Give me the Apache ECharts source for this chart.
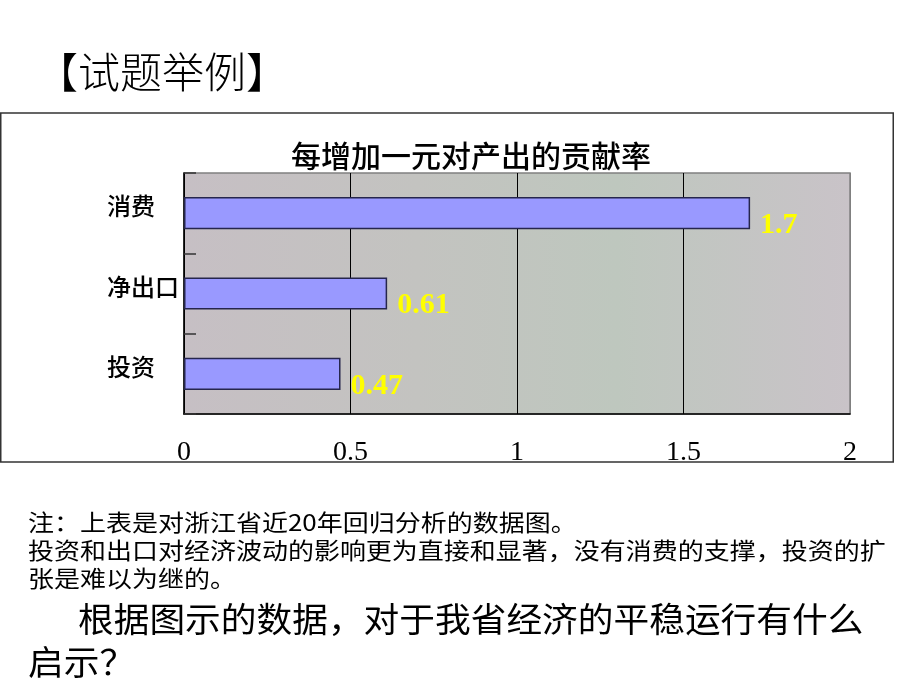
<!DOCTYPE html>
<html>
<head>
<meta charset="utf-8">
<script src="https://cdn.jsdelivr.net/npm/echarts@6/dist/echarts.min.js"></script>
<style>
html,body{margin:0;padding:0;background:#fff;}
#chart{width:920px;height:690px;}
</style>
</head>
<body>
<div id="chart"></div>
<script>
// ---- data ----
const categories = ['消费', '净出口', '投资'];
const values = [1.7, 0.61, 0.47];
const xTicks = [0, 0.5, 1, 1.5, 2];
const chartTitle = '每增加一元对产出的贡献率';
const pageHeading = '【试题举例】';
const noteLines = [
  '注：上表是对浙江省近20年回归分析的数据图。',
  '投资和出口对经济波动的影响更为直接和显著，没有消费的支撑，投资的扩',
  '张是难以为继的。'
];
const questionLines = [
  '根据图示的数据，对于我省经济的平稳运行有什么',
  '启示？'
];

const CJK = '"Noto Sans CJK SC", "Noto Sans", sans-serif';
const SERIF = '"Liberation Serif", "DejaVu Serif", serif';

function txt(x, y, text, size, opts) {
  opts = opts || {};
  return {
    type: 'text',
    x: x, y: y,
    scaleX: opts.scaleX || 1,
    z: 10,
    style: {
      text: text,
      x: 0, y: 0,
      fill: opts.color || '#000',
      font: (opts.weight || 'normal') + ' ' + size + 'px ' + CJK,
      align: 'left', textAlign: 'left',
      verticalAlign: 'middle', textVerticalAlign: 'middle'
    }
  };
}

const graphics = [
  {
    type: 'rect', z: -1,
    shape: { x: 0.75, y: 113, width: 892.5, height: 349 },
    style: { fill: 'none', stroke: '#333', lineWidth: 1.5 }
  },
  txt(36, 72, pageHeading, 42, { weight: 300 }),
  txt(28, 522, noteLines[0], 23, { scaleX: 1.13 }),
  txt(28, 550, noteLines[1], 23, { scaleX: 1.13 }),
  txt(28, 578, noteLines[2], 23, { scaleX: 1.13 }),
  txt(78, 619, questionLines[0], 34, { scaleX: 1.05 }),
  txt(28, 662, questionLines[1], 34, { scaleX: 1.05 })
];

const chart = echarts.init(document.getElementById('chart'));
chart.setOption({
  animation: false,
  backgroundColor: '#fff',
  title: {
    text: chartTitle,
    left: 466, top: 136,
    textAlign: 'center',
    textStyle: { fontFamily: CJK, fontSize: 30, fontWeight: 500, color: '#000' }
  },
  graphic: graphics,
  grid: {
    left: 184, top: 173, width: 666, height: 241,
    show: true,
    borderColor: '#808080', borderWidth: 1.5,
    backgroundColor: {
      type: 'linear', x: 0, y: 0, x2: 1, y2: 0,
      colorStops: [
        { offset: 0, color: '#c6bfc4' },
        { offset: 0.35, color: '#c3c3c0' },
        { offset: 0.65, color: '#bec7be' },
        { offset: 1, color: '#c9c3c8' }
      ]
    }
  },
  xAxis: {
    type: 'value',
    min: xTicks[0], max: xTicks[xTicks.length - 1], interval: 0.5,
    axisLine: { show: true, lineStyle: { color: '#000', width: 1.5 } },
    axisTick: { show: false },
    splitLine: { show: true, lineStyle: { color: ['#000', '#000', '#000', '#000', '#808080'], width: 1 } },
    axisLabel: {
      margin: 25,
      fontFamily: SERIF, fontSize: 28, color: '#000',
      formatter: function (v) { return String(v); }
    }
  },
  yAxis: {
    type: 'category',
    data: categories,
    inverse: true,
    axisLine: { show: true, lineStyle: { color: '#000', width: 1.5 } },
    axisTick: { show: true, inside: true, length: 12, lineStyle: { color: '#333', width: 1.5 } },
    splitLine: { show: false },
    axisLabel: {
      margin: 77, align: 'left',
      verticalAlign: 'bottom', lineHeight: 14,
      fontFamily: CJK, fontSize: 24, fontWeight: 500, color: '#000'
    }
  },
  series: [{
    type: 'bar',
    data: values,
    barWidth: '40%',
    itemStyle: { color: '#9999ff', borderColor: '#26264d', borderWidth: 1.5 },
    label: {
      show: true,
      position: 'right',
      distance: 10,
      offset: [0, 12],
      fontFamily: SERIF, fontSize: 30, fontWeight: 'bold', color: '#ffff00'
    }
  }]
});
</script>
</body>
</html>
